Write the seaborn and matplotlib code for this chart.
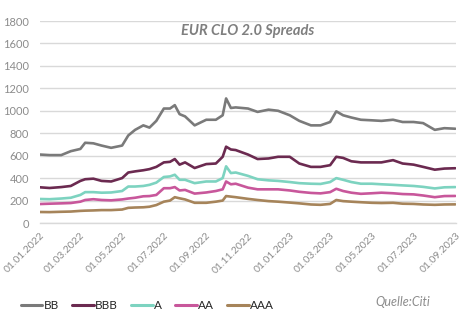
import matplotlib
matplotlib.use("Agg")
import matplotlib.pyplot as plt
import matplotlib.dates as mdates
import seaborn as sns
import pandas as pd
import numpy as np

dates = ["2022-01-01", "2022-01-15", "2022-02-01", "2022-02-15", "2022-03-01", "2022-03-08",
         "2022-03-20", "2022-04-01", "2022-04-15", "2022-05-01", "2022-05-10", "2022-05-20",
         "2022-06-01", "2022-06-10", "2022-06-20", "2022-07-01", "2022-07-10", "2022-07-17",
         "2022-07-24", "2022-08-01", "2022-08-15", "2022-09-01", "2022-09-15", "2022-09-25",
         "2022-09-30", "2022-10-07", "2022-10-14", "2022-11-01", "2022-11-15", "2022-12-01",
         "2022-12-15", "2023-01-01", "2023-01-15", "2023-02-01", "2023-02-15", "2023-03-01",
         "2023-03-10", "2023-03-20", "2023-04-01", "2023-04-15", "2023-05-01", "2023-05-15",
         "2023-06-01", "2023-06-15", "2023-07-01", "2023-07-15", "2023-08-01", "2023-08-15",
         "2023-08-31"]

bb = [610, 605, 605, 640, 660, 715, 710, 690, 670, 690, 780, 830, 870, 850, 910, 1020, 1020, 1050,
      970, 950, 870, 920, 920, 960, 1110, 1025, 1030, 1020, 990, 1010, 1000, 960, 910, 870, 870,
      900, 995, 960, 940, 920, 915, 910, 920, 900, 900, 890, 830, 845, 840]
bbb = [318, 312, 320, 330, 375, 390, 395, 375, 370, 400, 450, 460, 470, 480, 500, 540, 545, 570,
       520, 540, 490, 525, 530, 590, 680, 655, 650, 610, 570, 575, 590, 590, 530, 500, 500, 515,
       590, 580, 550, 540, 540, 540, 560, 530, 520, 500, 475, 485, 488]
a = [214, 212, 218, 225, 250, 275, 275, 270, 272, 285, 325, 325, 330, 340, 360, 410, 415, 430,
     385, 385, 355, 370, 370, 400, 505, 445, 450, 420, 390, 380, 375, 365, 355, 350, 348, 365,
     400, 385, 365, 350, 350, 345, 340, 335, 330, 322, 308, 318, 320]
aa = [169, 172, 175, 178, 190, 205, 212, 205, 202, 210, 218, 225, 238, 240, 250, 310, 310, 320,
      290, 295, 262, 272, 285, 300, 370, 345, 350, 315, 300, 300, 300, 290, 278, 268, 264, 275,
      305, 285, 270, 260, 265, 270, 265, 258, 255, 245, 230, 240, 241]
aaa = [98, 97, 100, 102, 108, 110, 112, 115, 115, 120, 135, 138, 140, 145, 160, 190, 200, 230,
       220, 210, 180, 180, 190, 200, 240, 235, 230, 215, 205, 195, 190, 182, 175, 165, 162, 170,
       205, 195, 190, 185, 180, 178, 180, 172, 170, 165, 162, 165, 166]

series_names = ["BB", "BBB", "A", "AA", "AAA"]
colors = ["#7a7a7a", "#6b2a50", "#7dd3c0", "#c8579b", "#a6845a"]
tick_labels = ["01.01.2022", "01.03.2022", "01.05.2022", "01.07.2022", "01.09.2022", "01.11.2022",
               "01.01.2023", "01.03.2023", "01.05.2023", "01.07.2023", "01.09.2023"]

frames = []
for name, vals in zip(series_names, [bb, bbb, a, aa, aaa]):
    frames.append(pd.DataFrame({"date": pd.to_datetime(dates), "value": vals, "series": name}))
df = pd.concat(frames, ignore_index=True)

sns.set_style("white")
plt.rcParams["font.family"] = ["Lato", "DejaVu Sans"]

fig = plt.figure(figsize=(4.72, 3.23), dpi=100)
ax = fig.add_axes([40 / 472, 1 - 223 / 323, 416 / 472, 202 / 323])

sns.lineplot(data=df, x="date", y="value", hue="series", hue_order=series_names,
             palette=colors, linewidth=1.9, ax=ax, legend=False)

ax.set_ylim(0, 1800)
ax.set_yticks(np.arange(0, 1801, 200))
ax.set_xlim(pd.Timestamp("2022-01-01"), pd.Timestamp("2023-09-01"))
ticks = pd.to_datetime(tick_labels, format="%d.%m.%Y")
ax.set_xticks(ticks)
ax.set_xticklabels(tick_labels, rotation=45, ha="right", rotation_mode="anchor")
ax.xaxis.set_minor_locator(mdates.MonthLocator())
ax.grid(axis="y", color="#d9d9d9", linewidth=1)
ax.set_axisbelow(True)
for s in ["top", "right", "left"]:
    ax.spines[s].set_visible(False)
ax.spines["bottom"].set_color("#d9d9d9")
ax.spines["bottom"].set_linewidth(1)
ax.tick_params(axis="y", length=0, labelsize=8, labelcolor="#8c8c8c", pad=8)
ax.tick_params(axis="x", which="both", length=4, color="#d9d9d9", labelsize=7.5,
               labelcolor="#8c8c8c", pad=2, direction="out")
ax.set_xlabel("")
ax.set_ylabel("")

ax.text(0.5, 0.95, "EUR CLO 2.0 Spreads", transform=ax.transAxes, ha="center", va="center",
        fontsize=10.5, fontstyle="italic", fontweight="bold", color="#7f7f7f")

from matplotlib.lines import Line2D
handles = [Line2D([0], [0], color=c, linewidth=2.2) for c in colors]
fig.legend(handles, series_names, loc="center left", bbox_to_anchor=(0.045, 0.053), ncol=5,
           frameon=False, fontsize=8.5, handlelength=1.8, handletextpad=0.1, columnspacing=1.15,
           labelcolor="#262626", borderaxespad=0, borderpad=0)

fig.text(0.795, 0.065, "Quelle:Citi", fontsize=9, fontstyle="italic", color="#8c8c8c",
         ha="left", va="center")

fig.savefig("out.png", dpi=100)
